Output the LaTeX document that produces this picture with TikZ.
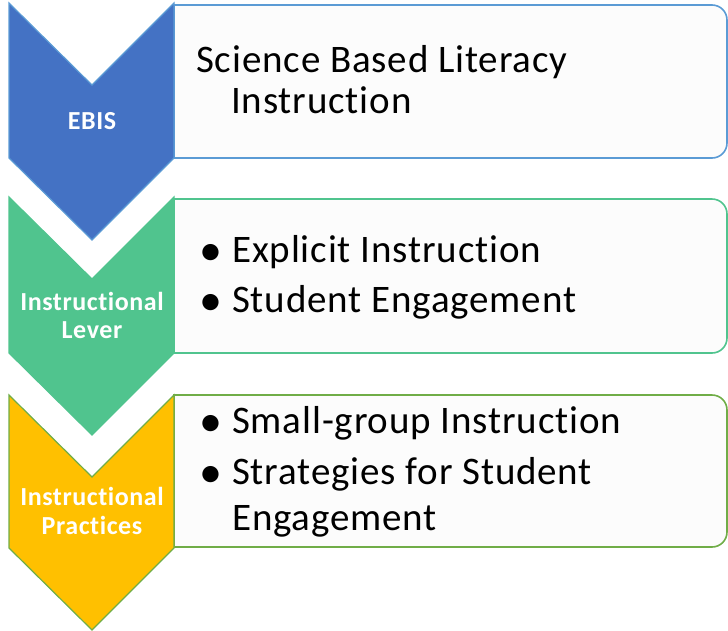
\documentclass[tikz,border=0pt]{standalone}
\usepackage{fontspec}
\setmainfont{Carlito}[Ligatures=NoCommon, LetterSpace=2.2]
\definecolor{cblue}{HTML}{4472C4}
\definecolor{cblueline}{HTML}{5B9BD5}
\definecolor{cgreen}{HTML}{50C48E}
\definecolor{corange}{HTML}{FFC000}
\definecolor{cgreenline}{HTML}{70AD47}
\definecolor{boxfill}{HTML}{FCFCFC}
\tikzset{
  boxline/.style={line width=1.6pt, fill=boxfill},
  chevline/.style={line width=1.2pt},
  maintext/.style={anchor=base west, inner sep=0pt, font=\fontsize{39}{41}\selectfont, text=black},
  bulletmark/.style={anchor=center, inner sep=0pt, font=\fontsize{46}{46}\selectfont, text=black},
  labeltext/.style={anchor=base, inner sep=0pt, font=\fontsize{26}{28}\selectfont\bfseries, text=white},
}
\newcommand{\rbox}[3]{% top, bottom, color
  \draw[boxline, draw=#3] (174,#1) -- (712,#1) arc[start angle=-90,end angle=0,radius=15]
    -- (727,#2-15) arc[start angle=0,end angle=90,radius=15] -- (174,#2) -- cycle;
}
\newcommand{\chev}[4]{% top, sidebottom, fill, line
  \draw[chevline, fill=#3, draw=#4] (9,#1) -- (92,#1+82) -- (174,#1) -- (174,#2) -- (92,#2+82) -- (9,#2) -- cycle;
}
\begin{document}
\begin{tikzpicture}[x=1pt,y=-1pt]
\useasboundingbox (0,0) rectangle (728,630);
% boxes
\rbox{5}{158}{cblueline}
\rbox{199}{353}{cgreen}
\rbox{395}{547}{cgreenline}
% chevrons
\chev{3}{158}{cblue}{cblueline}
\chev{197}{353}{cgreen}{cgreen}
\chev{395}{548}{corange}{cgreenline}
% labels
\node[labeltext] (l1) at (92,129) {EBIS};
\node[labeltext] (l2a) at (92,310) {Instructional};
\node[labeltext] (l2b) at (92,338) {Lever};
\node[labeltext] (l3a) at (92,505) {Instructional};
\node[labeltext] (l3b) at (92,534) {Practices};
% box 1 text
\node[maintext] (t1a) at (196,72) {Science Based Literacy};
\node[maintext] (t1b) at (231,113) {Instruction};
% box 2
\node[bulletmark] (b2a) at (210.5,254.5) {•};
\node[maintext] (t2a) at (232,262) {Explicit Instruction};
\node[bulletmark] (b2b) at (210.5,304.5) {•};
\node[maintext] (t2b) at (232,312) {Student Engagement};
% box 3
\node[bulletmark] (b3a) at (210.5,425.5) {•};
\node[maintext] (t3a) at (232,433) {Small-group Instruction};
\node[bulletmark] (b3b) at (210.5,476.5) {•};
\node[maintext] (t3b) at (232,484) {Strategies for Student};
\node[maintext] (t3c) at (232,530) {Engagement};
\end{tikzpicture}
\end{document}
